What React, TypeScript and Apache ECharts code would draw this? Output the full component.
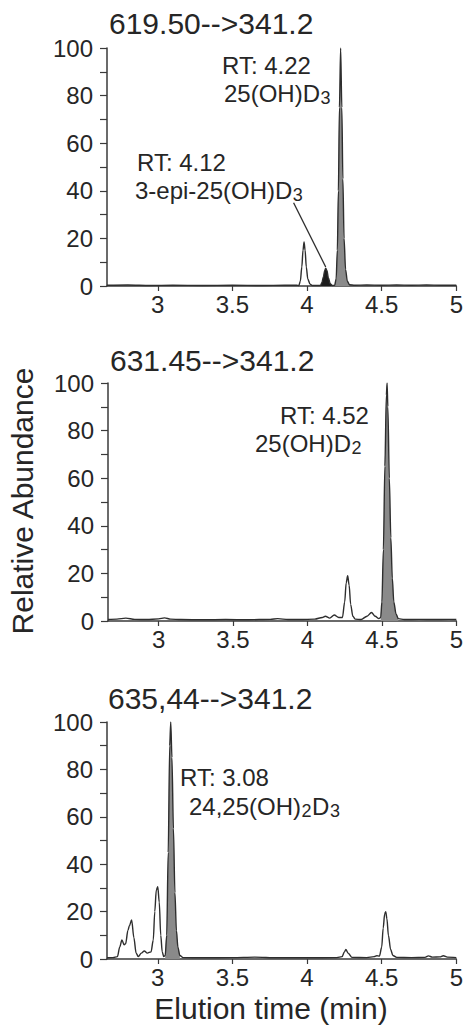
import React, { useEffect, useRef } from "react";
import * as echarts from "echarts";

// ---------- data ----------
const X_MIN = 2.66;
const X_MAX = 5;
const X_TICKS = [3, 3.5, 4, 4.5, 5];
const Y_TICKS = [0, 20, 40, 60, 80, 100];
const Y_MINOR_TICKS = [0, 10, 20, 30, 40, 50, 60, 70, 80, 90, 100];

const PANEL_TITLES = ["619.50-->341.2", "631.45-->341.2", "635,44-->341.2"];

// Panel 1: 619.50 --> 341.2
const p1Time = [
  2.66, 2.8, 2.95, 3.1, 3.3, 3.5, 3.7, 3.85, 3.93, 3.945, 3.955, 3.965, 3.973, 3.98, 3.987, 3.995,
  4.005, 4.02, 4.035, 4.06, 4.09, 4.1, 4.11, 4.118, 4.125, 4.133, 4.143, 4.155, 4.17, 4.185,
  4.195, 4.203, 4.21, 4.217, 4.225, 4.233, 4.24, 4.248, 4.258, 4.27, 4.285, 4.32, 4.4, 4.5,
  4.6, 4.7, 4.8, 4.9, 5.0,
];
const p1Abund = [
  0.3, 0.4, 0.2, 0.3, 0.2, 0.3, 0.2, 0.3, 0.3, 0.2, 2, 8, 15, 18.5, 15, 8,
  3, 0.8, 0.2, 0.2, 0.2, 1.5, 4, 6.5, 7.5, 6.5, 3.5, 1, 0.2, 0.3,
  3, 15, 40, 75, 100, 75, 45, 20, 7, 2, 0.5, 0.3, 0.4, 0.3,
  0.4, 0.3, 0.4, 0.3, 0.3,
];
const p1MinorPeak = [4.09, 4.17]; // 3-epi-25(OH)D3 (black)
const p1MainPeak = [4.185, 4.285]; // 25(OH)D3 (grey)
const p1Pointer = [
  [3.91, 35],
  [4.125, 8],
];

// Panel 2: 631.45 --> 341.2
const p2Time = [
  2.66, 2.72, 2.78, 2.84, 2.92, 3.0, 3.04, 3.08, 3.15, 3.3, 3.45, 3.6, 3.75, 3.8, 3.87, 3.95,
  4.05, 4.1, 4.12, 4.15, 4.18, 4.21, 4.235, 4.25, 4.26, 4.27, 4.28, 4.29, 4.305, 4.32, 4.36,
  4.4, 4.43, 4.455, 4.48, 4.492, 4.5, 4.51, 4.52, 4.53, 4.535, 4.54, 4.55, 4.56, 4.57, 4.58,
  4.595, 4.61, 4.65, 4.75, 4.85, 4.95, 5.0,
];
const p2Abund = [
  0.6, 0.8, 1.2, 0.7, 0.6, 0.9, 1.3, 0.8, 0.6, 0.5, 0.6, 0.5, 0.7, 1, 0.6, 0.6,
  0.8, 1.5, 2, 1.2, 2.5, 1.5, 1.5, 8, 16, 19, 15, 7, 2, 0.8, 0.6,
  2, 3.6, 2, 1, 1.5, 8, 30, 65, 95, 100, 90, 60, 35, 18, 8,
  3, 1, 0.6, 0.7, 0.6, 0.7, 0.6,
];
const p2MainPeak = [4.492, 4.61]; // 25(OH)D2 (grey)

// Panel 3: 635,44 --> 341.2
const p3Time = [
  2.66, 2.7, 2.73, 2.745, 2.76, 2.775, 2.785, 2.8, 2.81, 2.825, 2.84, 2.855, 2.87, 2.89, 2.91,
  2.93, 2.955, 2.97, 2.98, 2.99, 3.0, 3.01, 3.02, 3.03, 3.04, 3.05, 3.06, 3.07, 3.08, 3.087,
  3.095, 3.105, 3.115, 3.125, 3.135, 3.148, 3.17, 3.3, 3.5, 3.65, 3.8, 4.0, 4.2, 4.235, 4.25,
  4.26, 4.275, 4.3, 4.4, 4.45, 4.467, 4.485, 4.5, 4.51, 4.52, 4.527, 4.535, 4.545, 4.56, 4.575,
  4.6, 4.7, 4.79, 4.813, 4.84, 4.89, 4.913, 4.94, 5.0,
];
const p3Abund = [
  0.5, 0.6, 1, 5, 8, 6, 6.5, 12, 14, 16.5, 9, 2.5, 1, 2.5, 3.4,
  2.5, 3, 8, 20, 29, 30.5, 24, 10, 3, 1, 1.5, 10, 45, 90, 100,
  85, 55, 28, 12, 5, 1.5, 0.6, 0.5, 0.6, 0.8, 0.5, 0.5, 0.6, 1, 3,
  4, 2.5, 0.7, 0.6, 1, 1.4, 1.2, 5, 13, 19, 20, 17, 10, 4, 1.5,
  0.7, 0.6, 0.7, 1.3, 0.8, 0.9, 1.4, 0.8, 0.6,
];
const p3MainPeak = [3.05, 3.148]; // 24,25(OH)2D3 (grey)

// ---------- helpers ----------
const FONT = '"Liberation Sans", Arial, Helvetica, sans-serif';
const INK = "#262626";
const AXIS = "#3a3a3a";
const GREY_FILL = "#8a8a8a";
const BLACK_FILL = "#1c1c1c";
const MAIN_SIZE = 24;
const SUB_SIZE = 18;
const SUB_DROP = 5;

const zip = (t: number[], a: number[]) => t.map((x, i) => [x, a[i]]);
const within = (pts: number[][], r: number[]) => pts.filter((p) => p[0] >= r[0] && p[0] <= r[1]);

const GRIDS = [
  { left: 107, top: 48, width: 351, height: 238 },
  { left: 108, top: 383, width: 350, height: 238 },
  { left: 107, top: 722, width: 351, height: 237 },
];

let measureCtx: CanvasRenderingContext2D | null = null;
function textWidth(text: string, size: number) {
  if (!measureCtx) measureCtx = document.createElement("canvas").getContext("2d");
  if (!measureCtx) return text.length * size * 0.55;
  measureCtx.font = `${size}px ${FONT}`;
  return measureCtx.measureText(text).width;
}

function xAxis(i: number) {
  return {
    type: "value",
    gridIndex: i,
    min: X_MIN,
    max: X_MAX,
    axisLine: { show: true, onZero: false, lineStyle: { color: AXIS, width: 1.5 } },
    axisTick: { show: true, length: 5, customValues: X_TICKS, lineStyle: { color: AXIS, width: 1.2 } },
    axisLabel: {
      customValues: X_TICKS,
      fontSize: 24,
      color: INK,
      fontFamily: FONT,
      margin: 6,
      formatter: (v: number) => String(v),
    },
    splitLine: { show: false },
  };
}

function yAxis(i: number) {
  return {
    type: "value",
    gridIndex: i,
    min: 0,
    max: 100,
    axisLine: { show: true, lineStyle: { color: AXIS, width: 1.5 } },
    axisTick: { show: true, length: 7, customValues: Y_MINOR_TICKS, lineStyle: { color: AXIS, width: 1.2 } },
    axisLabel: {
      customValues: Y_TICKS,
      fontSize: 24,
      color: INK,
      fontFamily: FONT,
      margin: 14,
    },
    splitLine: { show: false },
  };
}

function trace(i: number, data: number[][]) {
  return {
    type: "line",
    xAxisIndex: i,
    yAxisIndex: i,
    data,
    showSymbol: false,
    symbol: "none",
    smooth: 0.3,
    smoothMonotone: "x",
    lineStyle: { color: "#2e2e2e", width: 1.4 },
    z: 3,
  };
}

function fill(i: number, data: number[][], color: string) {
  return {
    type: "line",
    xAxisIndex: i,
    yAxisIndex: i,
    data,
    showSymbol: false,
    symbol: "none",
    smooth: 0.3,
    smoothMonotone: "x",
    lineStyle: { width: 0 },
    areaStyle: { color, opacity: 1 },
    z: 2,
  };
}

function plain(x: number, y: number, text: string, size: number, align = "left", rotation = 0) {
  return {
    type: "text",
    x,
    y,
    rotation,
    style: {
      text,
      fill: INK,
      fontSize: size,
      fontFamily: FONT,
      lineHeight: size - 2,
      align,
      verticalAlign: "middle",
    },
  };
}

// segments: [text, isSubscript]
function chem(x: number, y: number, segments: [string, boolean][]) {
  const out: any[] = [];
  let cx = x;
  for (const [t, sub] of segments) {
    const size = sub ? SUB_SIZE : MAIN_SIZE;
    out.push(plain(cx, sub ? y + SUB_DROP : y, t, size));
    cx += textWidth(t, size) + 0.5;
  }
  return out;
}

export default function App() {
  const ref = useRef<HTMLDivElement>(null);

  useEffect(() => {
    if (!ref.current) return;
    const chart = echarts.init(ref.current, null, { renderer: "svg" });

    const p1 = zip(p1Time, p1Abund);
    const p2 = zip(p2Time, p2Abund);
    const p3 = zip(p3Time, p3Abund);

    const option: any = {
      animation: false,
      backgroundColor: "#ffffff",
      grid: GRIDS,
      xAxis: [xAxis(0), xAxis(1), xAxis(2)],
      yAxis: [yAxis(0), yAxis(1), yAxis(2)],
      series: [
        fill(0, within(p1, p1MinorPeak), BLACK_FILL),
        fill(0, within(p1, p1MainPeak), GREY_FILL),
        trace(0, p1),
        {
          type: "line",
          xAxisIndex: 0,
          yAxisIndex: 0,
          data: p1Pointer,
          showSymbol: false,
          symbol: "none",
          lineStyle: { color: "#2e2e2e", width: 1.3 },
          z: 4,
        },
        fill(1, within(p2, p2MainPeak), GREY_FILL),
        trace(1, p2),
        fill(2, within(p3, p3MainPeak), GREY_FILL),
        trace(2, p3),
      ],
      graphic: [
        plain(109, 23, PANEL_TITLES[0], 30),
        plain(110, 360, PANEL_TITLES[1], 30),
        plain(108, 698, PANEL_TITLES[2], 30),
        plain(222, 65, "RT: 4.22", MAIN_SIZE),
        ...chem(224, 93, [["25(OH)D", false], ["3", true]]),
        plain(137, 162, "RT: 4.12", MAIN_SIZE),
        ...chem(135, 190, [["3-epi-25(OH)D", false], ["3", true]]),
        plain(280, 415, "RT: 4.52", MAIN_SIZE),
        ...chem(255, 443, [["25(OH)D", false], ["2", true]]),
        plain(180, 777, "RT: 3.08", MAIN_SIZE),
        ...chem(189, 806, [["24,25(OH)", false], ["2", true], ["D", false], ["3", true]]),
        plain(22, 501, "Relative Abundance", 30, "center", Math.PI / 2),
        plain(271, 1008, "Elution time (min)", 30, "center"),
      ],
    };

    chart.setOption(option);
    return () => chart.dispose();
  }, []);

  return (
    <div
      ref={ref}
      style={{ position: "absolute", left: 0, top: 0, width: 466, height: 1026, background: "#fff" }}
    />
  );
}
